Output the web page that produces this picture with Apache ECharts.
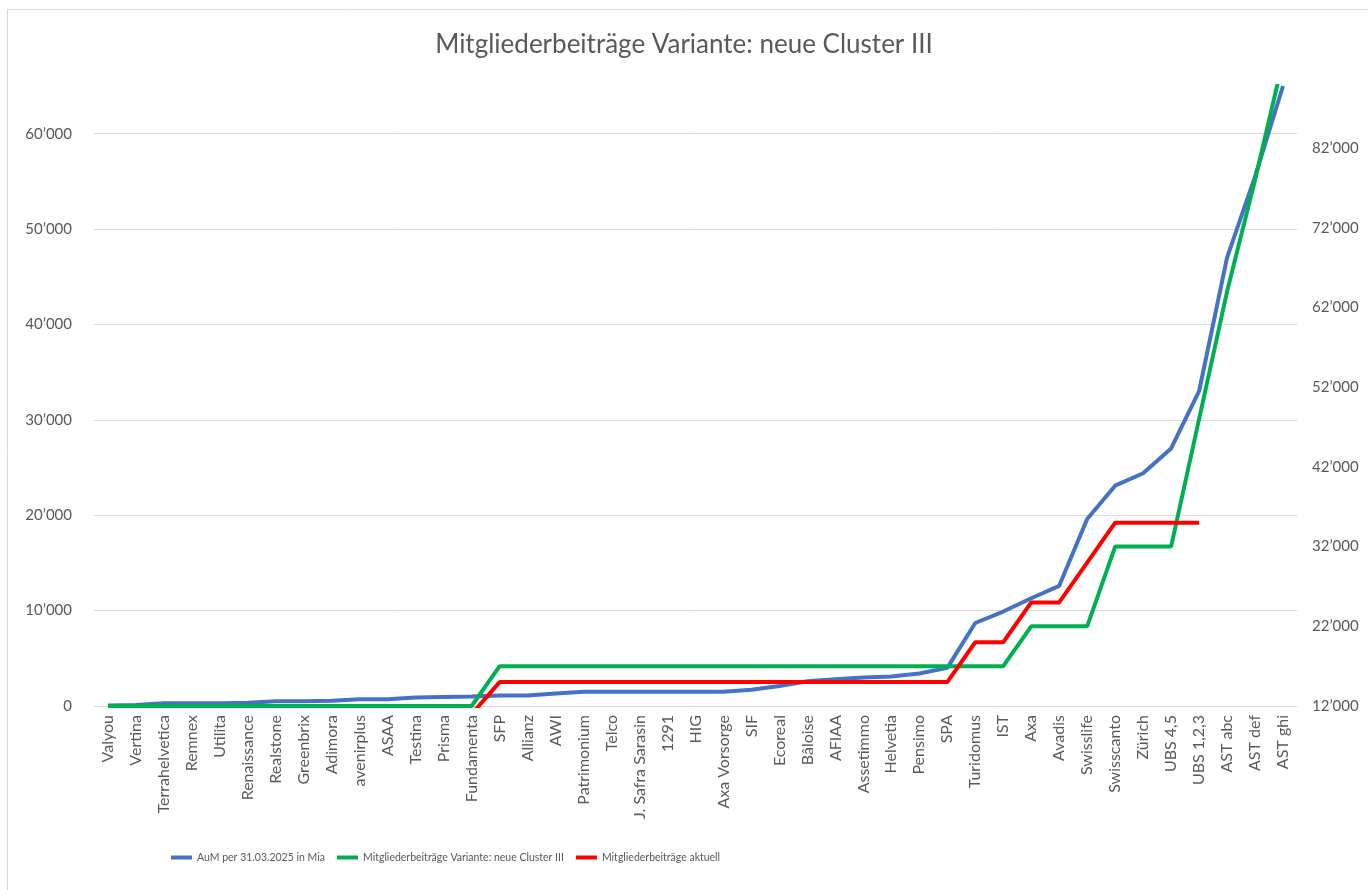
<!DOCTYPE html>
<html>
<head>
<meta charset="utf-8">
<title>Mitgliederbeiträge Variante: neue Cluster III</title>
<script src="https://cdn.jsdelivr.net/npm/echarts@6/dist/echarts.min.js"></script>
<style>
  html, body { margin: 0; padding: 0; background: #fff; }
  #chart { width: 1368px; height: 890px; }
</style>
</head>
<body>
<div id="chart"></div>
<script>
// Kategorien (Stiftungen), sortiert nach AuM
var categories = ['Valyou', 'Vertina', 'Terrahelvetica', 'Remnex', 'Utilita', 'Renaissance',
  'Realstone', 'Greenbrix', 'Adimora', 'avenirplus', 'ASAA', 'Testina', 'Prisma', 'Fundamenta',
  'SFP', 'Allianz', 'AWI', 'Patrimonium', 'Telco', 'J. Safra Sarasin', '1291', 'HIG',
  'Axa Vorsorge', 'SIF', 'Ecoreal', 'Bâloise', 'AFIAA', 'Assetimmo', 'Helvetia', 'Pensimo',
  'SPA', 'Turidomus', 'IST', 'Axa', 'Avadis', 'Swisslife', 'Swisscanto', 'Zürich',
  'UBS 4,5', 'UBS 1,2,3', 'AST abc', 'AST def', 'AST ghi']

// AuM per 31.03.2025 in Mia (linke Achse)
var aum = [50, 100, 300, 300, 300, 350, 500, 500, 550, 700, 700, 900, 950, 1000,
  1100, 1100, 1300, 1500, 1500, 1500, 1500, 1500, 1500, 1700, 2100, 2600, 2800, 3000,
  3100, 3400, 4000, 8700, 9900, 11300, 12600, 19600, 23100, 24400, 27000, 33000,
  47000, 55500, 65000]

// Mitgliederbeiträge Variante: neue Cluster III (rechte Achse)
var beitragNeu = [12000, 12000, 12000, 12000, 12000, 12000, 12000, 12000, 12000, 12000,
  12000, 12000, 12000, 12000, 17000, 17000, 17000, 17000, 17000, 17000, 17000, 17000,
  17000, 17000, 17000, 17000, 17000, 17000, 17000, 17000, 17000, 17000, 17000, 22000,
  22000, 22000, 32000, 32000, 32000, 48000, 64000, 78000, 93000]

// Mitgliederbeiträge aktuell (rechte Achse)
var beitragAktuell = [11000, 11000, 11000, 11000, 11000, 11000, 11000, 11000, 11000,
  11000, 11000, 11000, 11000, 11000, 15000, 15000, 15000, 15000, 15000, 15000, 15000,
  15000, 15000, 15000, 15000, 15000, 15000, 15000, 15000, 15000, 15000, 20000, 20000,
  25000, 25000, 30000, 35000, 35000, 35000, 35000, null, null, null]

var seriesNames = ['AuM per 31.03.2025 in Mia',
  'Mitgliederbeiträge Variante: neue Cluster III',
  'Mitgliederbeiträge aktuell']

var fmt = function (v) {
  return String(v).replace(/\B(?=(\d{3})+(?!\d))/g, '\u2019')
}

var font = 'Lato, "Open Sans", sans-serif'
var grey = '#595959'

var myChart = echarts.init(document.getElementById('chart'))
myChart.setOption({
  animation: false,
  textStyle: { fontFamily: font },
  title: {
    text: 'Mitgliederbeiträge Variante: neue Cluster III',
    left: 'center',
    top: 27,
    textStyle: { fontFamily: font, fontSize: 26, fontWeight: 'normal', color: grey }
  },
  graphic: [
    { type: 'line', shape: { x1: 7.5, y1: 9.5, x2: 7.5, y2: 890 }, style: { stroke: '#d9d9d9', lineWidth: 1 } },
    { type: 'line', shape: { x1: 7.5, y1: 9.5, x2: 1368, y2: 9.5 }, style: { stroke: '#d9d9d9', lineWidth: 1 } }
  ],
  legend: {
    bottom: 22,
    left: 166,
    itemWidth: 21,
    itemHeight: 4,
    itemGap: 12,
    icon: 'rect',
    textStyle: { fontFamily: font, fontSize: 10.5, color: grey },
    data: seriesNames
  },
  grid: { left: 94, right: 71, top: 86, bottom: 184 },
  xAxis: {
    type: 'category',
    data: categories,
    boundaryGap: true,
    axisLine: { show: false },
    axisTick: { show: false },
    axisLabel: { interval: 0, rotate: 90, margin: 9, fontSize: 16, color: grey, fontFamily: font }
  },
  yAxis: [
    {
      type: 'value',
      min: 0,
      max: 65000,
      interval: 10000,
      axisLine: { show: false },
      axisTick: { show: false },
      axisLabel: { margin: 22, fontSize: 15, color: grey, fontFamily: font, showMaxLabel: false, formatter: fmt },
      splitLine: {
        lineStyle: {
          color: ['#d9d9d9', '#d9d9d9', '#d9d9d9', '#d9d9d9', '#d9d9d9', '#d9d9d9', '#d9d9d9', 'rgba(0,0,0,0)'],
          width: 1
        }
      }
    },
    {
      type: 'value',
      min: 12000,
      max: 89800,
      interval: 10000,
      axisLine: { show: false },
      axisTick: { show: false },
      splitLine: { show: false },
      axisLabel: { margin: 15, fontSize: 15, color: grey, fontFamily: font, showMaxLabel: false, formatter: fmt }
    }
  ],
  series: [
    {
      name: seriesNames[0],
      type: 'line',
      yAxisIndex: 0,
      data: aum,
      symbol: 'none',
      lineStyle: { color: '#4472C4', width: 4 },
      itemStyle: { color: '#4472C4' }
    },
    {
      name: seriesNames[1],
      type: 'line',
      yAxisIndex: 1,
      data: beitragNeu,
      symbol: 'none',
      lineStyle: { color: '#00B050', width: 4 },
      itemStyle: { color: '#00B050' }
    },
    {
      name: seriesNames[2],
      type: 'line',
      yAxisIndex: 1,
      data: beitragAktuell,
      symbol: 'none',
      lineStyle: { color: '#FF0000', width: 4 },
      itemStyle: { color: '#FF0000' }
    }
  ]
})
</script>
</body>
</html>
